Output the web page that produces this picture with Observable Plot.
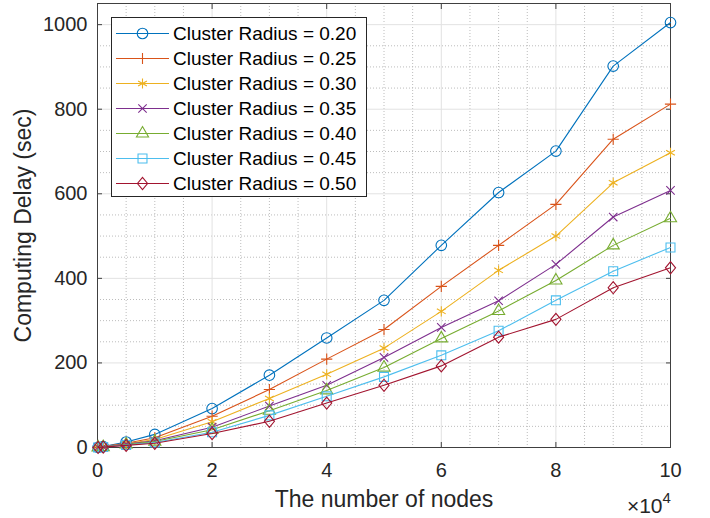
<!DOCTYPE html>
<html><head><meta charset="utf-8">
<script src="https://cdn.jsdelivr.net/npm/d3@7"></script>
<script src="https://cdn.jsdelivr.net/npm/@observablehq/plot@0.6"></script>
<style>
body{margin:0;background:#fff;}
#wrap{position:relative;width:710px;height:518px;font-family:"Liberation Sans",Arial,Helvetica,sans-serif;}
#legend{position:absolute;left:111px;top:17px;width:256px;height:180px;box-sizing:border-box;border:1px solid #262626;background:#fff;}
.row{position:absolute;left:0;height:25px;width:250px;}
.row svg{position:absolute;left:0;top:0;}
.row span{position:absolute;left:61px;top:0;line-height:25px;font-size:19px;color:#000;white-space:nowrap;}
</style></head><body><div id="wrap"></div>
<script>
// x values in units of 10^4 nodes
const nodes = [0.01, 0.1, 0.5, 1, 2, 3, 4, 5, 6, 7, 8, 9, 10];
const radius020 = [0.5, 2, 13, 31, 92, 171, 259, 348, 478, 603, 701, 902, 1005];
const radius025 = [0.4, 2, 10, 23, 74, 137, 209, 279, 381, 478, 575, 729, 812];
const radius030 = [0.3, 1.5, 9, 19, 61, 116, 173, 235, 322, 419, 500, 626, 697];
const radius035 = [0.3, 1.5, 8, 16, 48, 98, 147, 213, 284, 347, 433, 545, 608];
const radius040 = [0.2, 1, 7, 14, 42, 87, 135, 189, 258, 323, 395, 478, 542];
const radius045 = [0.2, 1, 6, 12, 36, 76, 121, 167, 218, 276, 348, 417, 473];
const radius050 = [0.2, 1, 5, 10, 33, 62, 105, 147, 193, 261, 303, 378, 425];
const seriesNames = ["Cluster Radius = 0.20","Cluster Radius = 0.25","Cluster Radius = 0.30","Cluster Radius = 0.35","Cluster Radius = 0.40","Cluster Radius = 0.45","Cluster Radius = 0.50"];
const xTicks = [0, 2, 4, 6, 8, 10];
const yTicks = [0, 200, 400, 600, 800, 1000];
const xLabel = "The number of nodes";
const yLabel = "Computing Delay (sec)";

const seriesValues = [radius020, radius025, radius030, radius035, radius040, radius045, radius050];
const colors = ["#0072BD","#D95319","#EDB120","#7E2F8E","#77AC30","#4DBEEE","#A2142F"];
// MATLAB-like tall diamond marker
const tallDiamond = {draw(ctx, size) { const w = Math.sqrt(size) * 0.56, h = w * 1.2; ctx.moveTo(0, -h); ctx.lineTo(w, 0); ctx.lineTo(0, h); ctx.lineTo(-w, 0); ctx.closePath(); }};
const symbols = [d3.symbolCircle, d3.symbolPlus, d3.symbolAsterisk, d3.symbolTimes, d3.symbolTriangle2, d3.symbolSquare2, tallDiamond];
const symbolNames = ["circle","plus","asterisk","times","triangle2","square2",tallDiamond];
const symbolR = [5.3, 3.7, 4.8, 3.9, 5.8, 5.7, 5.1];

const tables = seriesValues.map(vals => nodes.map((n, i) => ({n, v: vals[i]})));
const xMinor = d3.range(0.5, 10, 0.5).filter(v => v % 2 !== 0);
const yMinor = d3.range(50, 1051, 50).filter(v => v % 200 !== 0);
const ax = "#262626";

const marks = [
  Plot.gridX(xMinor, {stroke:"#bcbcbc", strokeOpacity:1, strokeWidth:1, strokeDasharray:"1,2"}),
  Plot.gridY(yMinor, {stroke:"#bcbcbc", strokeOpacity:1, strokeWidth:1, strokeDasharray:"1,2"}),
  Plot.gridX(xTicks, {stroke:"#e2e2e2", strokeOpacity:1, strokeWidth:1}),
  Plot.gridY(yTicks, {stroke:"#e2e2e2", strokeOpacity:1, strokeWidth:1}),
  Plot.frame({stroke:"#404040", strokeWidth:1}),
  Plot.axisX(xTicks, {anchor:"bottom", tickSize:-5, tickFormat:()=>"", label:null, stroke:"#404040"}),
  Plot.axisX(xTicks, {anchor:"top", tickSize:-5, tickFormat:()=>"", label:null, stroke:"#404040"}),
  Plot.axisY(yTicks, {anchor:"left", tickSize:-5, tickFormat:()=>"", label:null, stroke:"#404040"}),
  Plot.axisY(yTicks, {anchor:"right", tickSize:-5, tickFormat:()=>"", label:null, stroke:"#404040"}),
  Plot.axisX(xTicks, {anchor:"bottom", tickSize:0, tickPadding:15, fontSize:20, fill:ax, label:null, tickFormat:d=>String(d)}),
  Plot.axisY(yTicks, {anchor:"left", tickSize:0, tickPadding:10, fontSize:20, fill:ax, label:null, tickFormat:d=>String(d)}),
  Plot.text([xLabel], {text:d=>d, frameAnchor:"bottom", textAnchor:"middle", lineAnchor:"middle", dy:52, fontSize:23, fill:ax}),
  Plot.text([yLabel], {text:d=>d, frameAnchor:"left", textAnchor:"middle", lineAnchor:"middle", rotate:-90, dx:-74, fontSize:23, fill:ax}),
  Plot.text(["×10"], {text:d=>d, frameAnchor:"bottom-right", textAnchor:"end", lineAnchor:"bottom", dx:-8, dy:65, fontSize:21, fill:ax}),
  Plot.text(["4"], {text:d=>d, frameAnchor:"bottom-right", textAnchor:"start", lineAnchor:"bottom", dx:-8, dy:55, fontSize:15, fill:ax})
];
tables.forEach((t, k) => {
  marks.push(Plot.line(t, {x:"n", y:"v", stroke:colors[k], strokeWidth:1.1}));
  marks.push(Plot.dot(t, {x:"n", y:"v", symbol:symbolNames[k], r:symbolR[k], stroke:colors[k], fill:"none", strokeWidth:1.1}));
});

const chart = Plot.plot({
  width:710, height:518,
  marginLeft:97, marginRight:40, marginTop:3, marginBottom:71,
  x:{domain:[0,10]},
  y:{domain:[0,1050]},
  style:{fontFamily:'"Liberation Sans",Arial,Helvetica,sans-serif', fontSize:"20px", color:ax, background:"#fff", overflow:"visible"},
  marks
});
const wrap = document.getElementById("wrap");
wrap.appendChild(chart);

const legend = document.createElement("div");
legend.id = "legend";
seriesNames.forEach((name, k) => {
  const row = document.createElement("div");
  row.className = "row";
  row.style.top = (3 + k * 25) + "px";
  const svg = d3.create("svg").attr("width", 60).attr("height", 25);
  svg.append("line").attr("x1", 4).attr("x2", 57).attr("y1", 12.5).attr("y2", 12.5).attr("stroke", colors[k]).attr("stroke-width", 1.1);
  svg.append("path").attr("transform", "translate(30.5,12.5)")
    .attr("d", d3.symbol(symbols[k], Math.PI * symbolR[k] * symbolR[k])())
    .attr("fill", "none").attr("stroke", colors[k]).attr("stroke-width", 1.1);
  row.appendChild(svg.node());
  const span = document.createElement("span");
  span.textContent = name;
  row.appendChild(span);
  legend.appendChild(row);
});
wrap.appendChild(legend);
</script>
</body></html>
